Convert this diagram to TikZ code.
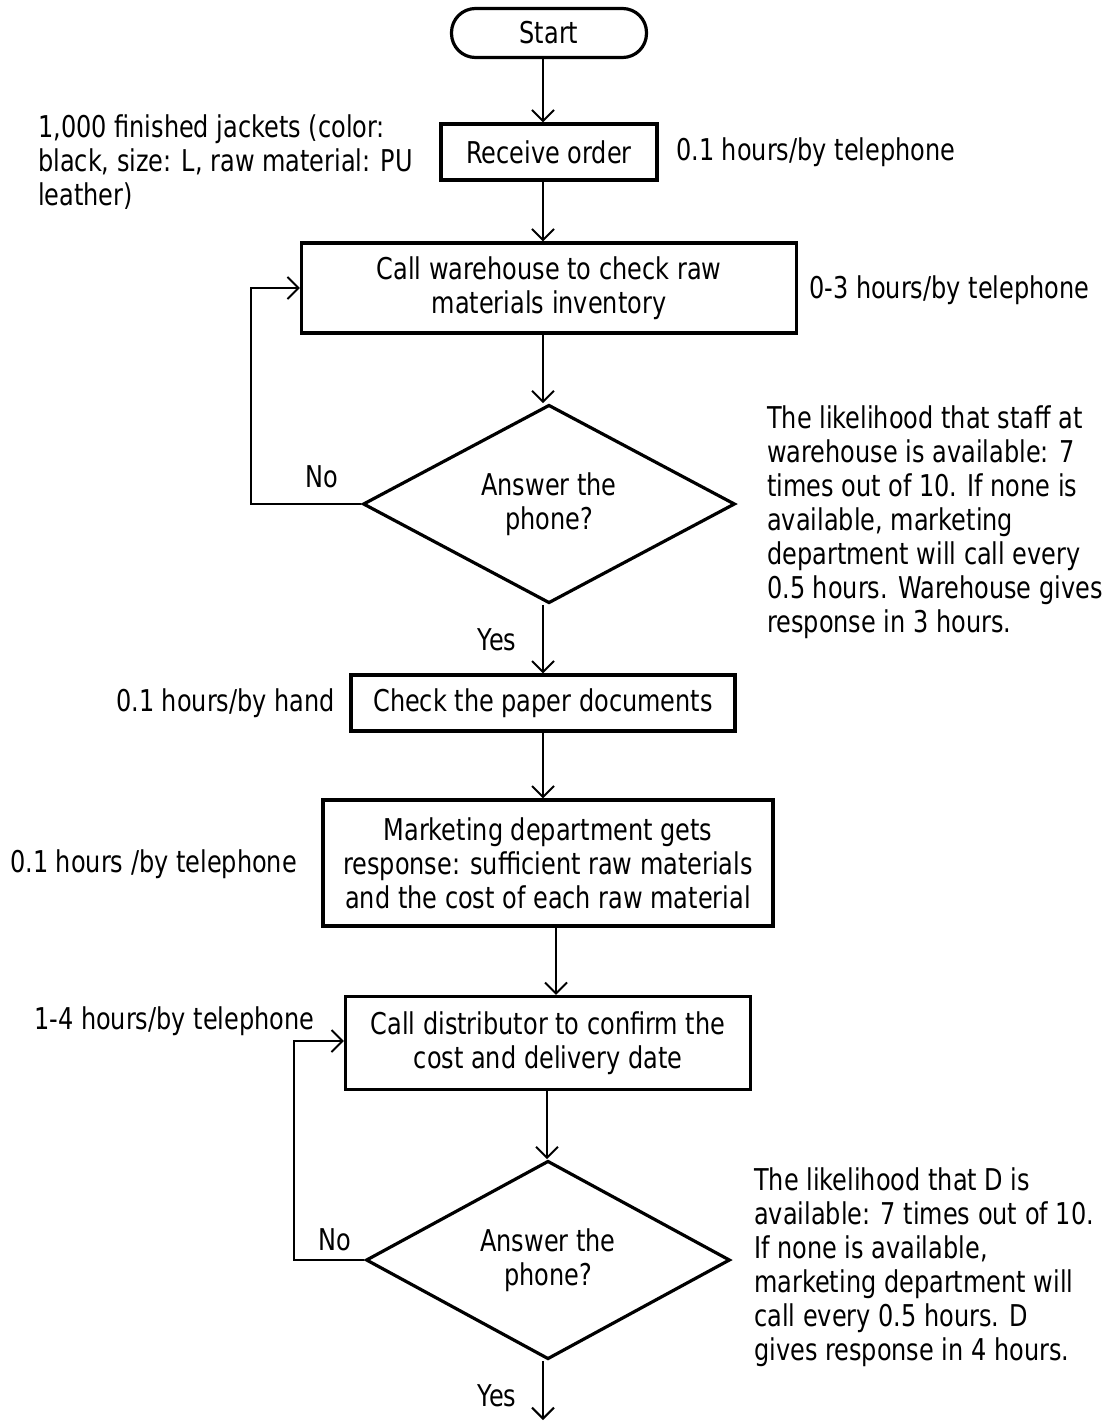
\documentclass[tikz,border=0pt]{standalone}
\usepackage{fontspec}
\setmainfont{DejaVu Sans}[FakeStretch=0.8]
\usepackage{tikz}
\usetikzlibrary{arrows.meta, calc, positioning, shapes.geometric}

\tikzset{
    flowbox/.style={draw, line width=3.2pt, align=center, inner sep=0pt},
    decision/.style={diamond, draw, line width=3.2pt, align=center, inner sep=0pt},
    flow/.style={line width=2pt, -{Straight Barb[length=11pt, width=22pt, line width=2pt]}},
    note/.style={align=left, inner sep=0pt, anchor=west},
}

\begin{document}
\begin{tikzpicture}[x=1pt, y=-1pt, font=\fontsize{30}{34}\selectfont]
    \useasboundingbox (0,0) rectangle (1113,1424);
    \coordinate (spine) at (543,0);

    % Main column
    \node[flowbox, rounded corners=24pt, minimum width=195pt, minimum height=49pt] (start) at (549,33) {Start};
    \node[flowbox, minimum width=216pt, minimum height=56pt] (recv) at (549,152) {Receive order};
    \node[flowbox, minimum width=495pt, minimum height=90pt] (store) at (549,288) {Call warehouse to check raw\\materials inventory};
    \node[decision, minimum width=372pt, minimum height=188pt] (ask1) at (549,504) {Answer the\\phone?};
    \node[flowbox, minimum width=384pt, minimum height=56pt] (paper) at (543,703) {Check the paper documents};
    \node[flowbox, minimum width=450pt, minimum height=126pt] (market) at (548,863) {Marketing department gets\\response: sufficient raw materials\\and the cost of each raw material};
    \node[flowbox, minimum width=405pt, minimum height=93pt] (dist) at (548,1043) {Call distributor to confirm the\\cost and delivery date};
    \node[decision, minimum width=364pt, minimum height=189pt] (ask2) at (548,1260) {Answer the\\phone?};
    \coordinate (out) at (543,1420);

    % Arrows down the column
    \draw[flow] (start.south -| spine) -- (recv.north -| spine);
    \draw[flow] (recv.south -| spine) -- (store.north -| spine);
    \draw[flow] (store.south -| spine) -- (ask1.north -| spine);
    \draw[flow] (ask1.south -| spine) -- (paper.north -| spine);
    \draw[flow] (paper.south -| spine) -- (market.north -| spine);
    \draw[flow] ([xshift=8pt]market.south) -- ([xshift=8pt]market.south |- dist.north);
    \draw[flow] ([xshift=-1pt]dist.south) -- ([xshift=-1pt]ask2.north);
    \draw[flow] (ask2.south -| spine) -- (out);

    % Loops back on "No"
    \draw[flow] (ask1.west) -- ++(-110,0) |- (store.west);
    \draw[flow] (ask2.west) -- ++(-70,0) |- ([yshift=2pt]dist.west);

    \node at (322,477) {No};
    \node at (497,640) {Yes};
    \node at (335,1240) {No};
    \node at (497,1396) {Yes};

    % Side notes
    \node[note] (order) at (38,162) {1,000 finished jackets (color:\\black, size: L, raw material: PU\\leather)};
    \node[note] at (676,152) {0.1 hours/by telephone};
    \node[note] at (809,290) {0-3 hours/by telephone};
    \node[note] at (767,522) {The likelihood that staff at\\warehouse is available: 7\\times out of 10. If none is\\available, marketing\\department will call every\\0.5 hours. Warehouse gives\\response in 3 hours.};
    \node[note] at (116,703) {0.1 hours/by hand};
    \node[note] at (10,864) {0.1 hours /by telephone};
    \node[note] at (34,1021) {1-4 hours/by telephone};
    \node[note] at (754,1267) {The likelihood that D is\\available: 7 times out of 10.\\If none is available,\\marketing department will\\call every 0.5 hours. D\\gives response in 4 hours.};
\end{tikzpicture}
\end{document}
